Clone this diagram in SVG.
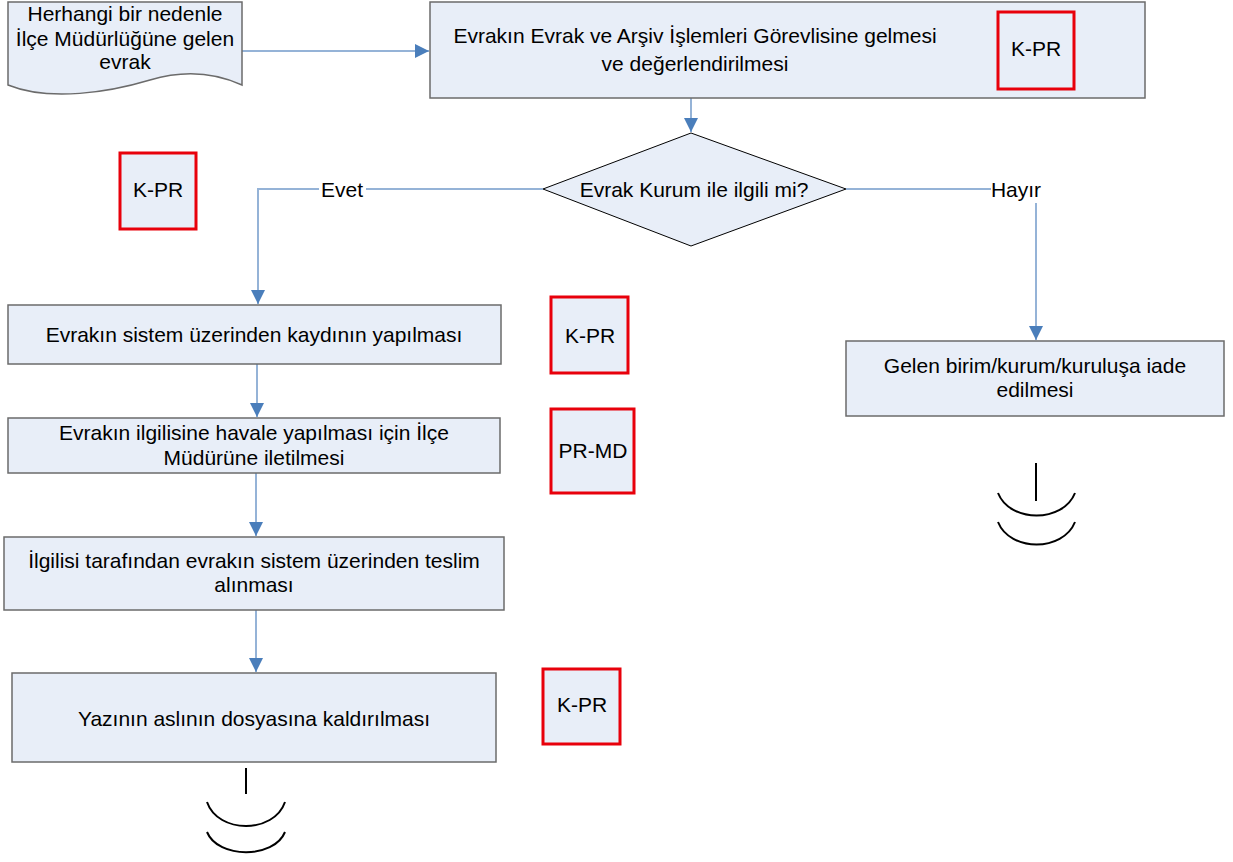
<svg xmlns="http://www.w3.org/2000/svg" width="1233" height="862" viewBox="0 0 1233 862">
<style>
.box{fill:#e8eef8;stroke:#6b6b6b;stroke-width:1.5}
.dia{fill:#e8eef8;stroke:#000;stroke-width:1}
.tag{fill:#e8eef8;stroke:#e8000b;stroke-width:3}
.t{font-family:"Liberation Sans",Arial,sans-serif;font-size:21px;fill:#000;text-anchor:middle}
.con{fill:none;stroke:#95b3d7;stroke-width:2}
.end{fill:none;stroke:#000;stroke-width:2}
</style>
<defs>
<marker id="ah" markerWidth="14" markerHeight="14" viewBox="0 0 14 14" refX="14" refY="7" orient="auto" markerUnits="userSpaceOnUse">
<path d="M0,0 L14,7 L0,14 Z" fill="#4a7ebb"/>
</marker>
</defs>
<rect width="1233" height="862" fill="#fff"/>
<g id="connectors">
<path class="con" d="M242,51 L429,51" marker-end="url(#ah)"/>
<path class="con" d="M691,98 L691,132" marker-end="url(#ah)"/>
<path class="con" d="M543,189 L258,189 L258,304" marker-end="url(#ah)"/>
<path class="con" d="M846,189 L991,189"/>
<path class="con" d="M1036,203 L1036,340" marker-end="url(#ah)"/>
<path class="con" d="M257,364 L257,417" marker-end="url(#ah)"/>
<path class="con" d="M256,473 L256,536" marker-end="url(#ah)"/>
<path class="con" d="M256,610 L256,672" marker-end="url(#ah)"/>
<rect x="319" y="178" width="47" height="22" fill="#fff"/>
<text class="t" x="342" y="197">Evet</text>
<text class="t" x="1016" y="197">Hayır</text>
</g>
<g id="start">
<path class="box" d="M8,2 L242,2 L242,85 C220,75 190,68 150,80 C110,92 50,102 8,85 Z"/>
<text class="t" x="125" y="21">Herhangi bir nedenle</text>
<text class="t" x="125" y="46">İlçe Müdürlüğüne gelen</text>
<text class="t" x="125" y="69">evrak</text>
</g>
<g id="n1">
<rect class="box" x="430" y="2" width="715" height="96"/>
<text class="t" x="695" y="43">Evrakın Evrak ve Arşiv İşlemleri Görevlisine gelmesi</text>
<text class="t" x="695" y="71">ve değerlendirilmesi</text>
</g>
<g id="decision">
<path class="dia" d="M691,133 L846,189 L691,246 L543,189 Z"/>
<text class="t" x="694" y="197">Evrak Kurum ile ilgili mi?</text>
</g>
<g id="n2">
<rect class="box" x="8" y="305" width="493" height="59"/>
<text class="t" x="254" y="342">Evrakın sistem üzerinden kaydının yapılması</text>
</g>
<g id="n3">
<rect class="box" x="8" y="418" width="492" height="55"/>
<text class="t" x="254" y="440">Evrakın ilgilisine havale yapılması için İlçe</text>
<text class="t" x="254" y="465">Müdürüne iletilmesi</text>
</g>
<g id="n4">
<rect class="box" x="4" y="537" width="500" height="73"/>
<text class="t" x="254" y="568">İlgilisi tarafından evrakın sistem üzerinden teslim</text>
<text class="t" x="254" y="592">alınması</text>
</g>
<g id="n5">
<rect class="box" x="12" y="673" width="484" height="89"/>
<text class="t" x="254" y="726">Yazının aslının dosyasına kaldırılması</text>
</g>
<g id="n6">
<rect class="box" x="846" y="341" width="378" height="75"/>
<text class="t" x="1035" y="373">Gelen birim/kurum/kuruluşa iade</text>
<text class="t" x="1035" y="397">edilmesi</text>
</g>
<g id="tag1"><rect class="tag" x="998" y="12" width="76" height="77"/><text class="t" x="1036" y="56">K-PR</text></g>
<g id="tag2"><rect class="tag" x="120" y="153" width="76" height="76"/><text class="t" x="158" y="197">K-PR</text></g>
<g id="tag3"><rect class="tag" x="551" y="297" width="77" height="76"/><text class="t" x="590" y="343">K-PR</text></g>
<g id="tag4"><rect class="tag" x="551" y="409" width="83" height="84"/><text class="t" x="593" y="458">PR-MD</text></g>
<g id="tag5"><rect class="tag" x="543" y="669" width="77" height="75"/><text class="t" x="582" y="712">K-PR</text></g>
<g id="end1">
<path class="end" d="M1036,463 L1036,501"/>
<path class="end" d="M998,493 C1010,523 1063,523 1075,493"/>
<path class="end" d="M998,522 C1010,552 1063,552 1075,522"/>
</g>
<g id="end2">
<path class="end" d="M246,768 L246,794"/>
<path class="end" d="M207,802 C218,834 274,834 285,802"/>
<path class="end" d="M207,832 C218,859 274,859 285,832"/>
</g>
</svg>
